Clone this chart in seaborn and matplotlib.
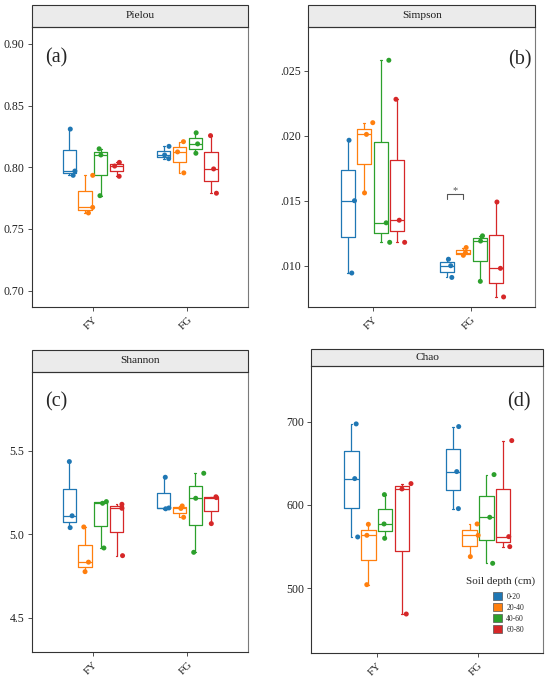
import numpy as np
import pandas as pd
import matplotlib
matplotlib.use("Agg")
import matplotlib.pyplot as plt
from matplotlib.patches import Rectangle, Patch
import seaborn as sns

# ---------------- data ----------------
groups = ["FY", "FG"]
depths = ["0-20", "20-40", "40-60", "60-80"]
colors = ["#1f77b4", "#ff7f0e", "#2ca02c", "#d62728"]

pielou_fy = [[0.7935, 0.797, 0.831], [0.763, 0.7675, 0.7935],
             [0.777, 0.810, 0.815], [0.7927, 0.801, 0.804]]
pielou_fg = [[0.807, 0.810, 0.817], [0.7955, 0.8125, 0.8208],
             [0.8114, 0.819, 0.828], [0.779, 0.7987, 0.8257]]

simpson_fy = [[0.00944, 0.0150, 0.01965], [0.0156, 0.0201, 0.0210],
              [0.0118, 0.0133, 0.0258], [0.0118, 0.0135, 0.0228]]
simpson_fg = [[0.0091, 0.0100, 0.0105], [0.0108, 0.0110, 0.0114],
              [0.0088, 0.0119, 0.0123], [0.0076, 0.0098, 0.0149]]

shannon_fy = [[5.04, 5.111, 5.436], [4.776, 4.833, 5.044],
              [4.918, 5.186, 5.196], [4.872, 5.156, 5.18]]
shannon_fg = [[5.153, 5.158, 5.342], [5.102, 5.155, 5.17],
              [4.892, 5.216, 5.366], [5.064, 5.22, 5.225]]

chao_fy = [[561.6, 631.6, 697.2], [504.4, 563.6, 576.8],
           [560.0, 577.2, 612.4], [469.2, 619.2, 625.6]]
chao_fg = [[595.6, 640.0, 694.0], [538.0, 563.6, 577.2],
           [530.0, 585.2, 636.4], [550.0, 562.0, 677.2]]

panel_titles = ["Pielou", "Simpson", "Shannon", "Chao"]
panel_letters = ["(a)", "(b)", "(c)", "(d)"]
yticks_a = [0.70, 0.75, 0.80, 0.85, 0.90]
yticklabels_a = ["0.70", "0.75", "0.80", "0.85", "0.90"]
yticks_b = [0.010, 0.015, 0.020, 0.025]
yticklabels_b = [".010", ".015", ".020", ".025"]
yticks_c = [4.5, 5.0, 5.5]
yticklabels_c = ["4.5", "5.0", "5.5"]
yticks_d = [500, 600, 700]
yticklabels_d = ["500", "600", "700"]
legend_title = "Soil depth (cm)"

# ---------------- style ----------------
sns.set_style("white")
plt.rcParams["font.family"] = ["Liberation Serif", "DejaVu Serif"]

DODGE = 1.0 / 6.0          # spacing of depth boxes within a group
OFFS = [(i - 1.5) * DODGE for i in range(4)]


def make_df(fy, fg):
    rows = []
    for gi, gdata in enumerate([fy, fg]):
        for di, vals in enumerate(gdata):
            for v in vals:
                rows.append({"group": groups[gi], "depth": depths[di],
                             "xpos": gi + OFFS[di], "value": v})
    return pd.DataFrame(rows)


datasets = [(pielou_fy, pielou_fg), (simpson_fy, simpson_fg),
            (shannon_fy, shannon_fg), (chao_fy, chao_fg)]

W, H = 550, 680
fig = plt.figure(figsize=(5.5, 6.8), dpi=100)

# axes boxes in pixels: left, right, top, bottom, strip height
boxes = [(31.5, 248.3, 26.7, 306.7, 21.7),
         (308.3, 535.0, 26.7, 306.7, 21.7),
         (31.5, 248.3, 371.7, 651.7, 21.7),
         (311.0, 543.3, 365.7, 652.7, 16.7)]
ylims = [(0.687, 0.914), (0.00685, 0.02838), (4.296, 5.975), (422.8, 767.0)]
yt = [(yticks_a, yticklabels_a), (yticks_b, yticklabels_b),
      (yticks_c, yticklabels_c), (yticks_d, yticklabels_d)]
letter_pos = [(0.113, 0.888), (0.934, 0.881), (0.113, 0.892), (0.893, 0.8735)]
xlim = (-0.65, 1.645)

np.random.seed(3)
palette = dict(zip(depths, colors))

for k in range(4):
    l, r, t, b, sh = boxes[k]
    ax = fig.add_axes([l / W, 1 - b / H, (r - l) / W, (b - t) / H])
    df = make_df(*datasets[k])
    df_pts = df.copy()
    df_pts["xpos"] = df_pts["xpos"] + 0.035

    sns.boxplot(data=df, x="xpos", y="value", hue="depth", hue_order=depths,
                palette=palette, native_scale=True, dodge=False, fill=False,
                width=0.85, whis=(0, 100), linewidth=0.9, legend=False,
                capwidths=0.018, ax=ax)
    sns.stripplot(data=df_pts, x="xpos", y="value", hue="depth",
                  hue_order=depths, palette=palette, native_scale=True,
                  dodge=False, jitter=0.35, size=3.6, linewidth=0,
                  legend=False, ax=ax)

    ax.set_xlim(*xlim)
    ax.set_ylim(*ylims[k])
    ax.set_xticks([0, 1])
    ax.set_xticklabels(groups, rotation=45, ha="right", va="top",
                       rotation_mode="anchor")
    ax.set_yticks(yt[k][0])
    ax.set_yticklabels(yt[k][1])
    ax.set_xlabel("")
    ax.set_ylabel("")
    ax.tick_params(axis="both", length=3, width=0.6, color="#333333",
                   labelsize=8.5, pad=2, direction="out",
                   labelcolor="#222222", left=True, bottom=True)
    ax.tick_params(axis="x", pad=3, labelsize=8)
    for s in ["left", "bottom", "top"]:
        ax.spines[s].set_color("#333333")
        ax.spines[s].set_linewidth(0.8)
    ax.spines["right"].set_color("#7a7a7a")
    ax.spines["right"].set_linewidth(0.8)

    # facet strip
    hfrac = sh / (b - t)
    ax.add_patch(Rectangle((0, 1), 1, hfrac, transform=ax.transAxes,
                           facecolor="#EBEBEB", edgecolor="#333333",
                           linewidth=0.8, clip_on=False))
    ax.text(0.5, 1 + hfrac / 2, panel_titles[k], transform=ax.transAxes,
            ha="center", va="center", fontsize=8.2, color="#1a1a1a")
    ax.text(letter_pos[k][0], letter_pos[k][1], panel_letters[k],
            transform=ax.transAxes, ha="center", va="center", fontsize=14.5)

    if k == 1:
        x0, x1 = 1 + OFFS[0], 1 + OFFS[1]
        ax.plot([x0, x0, x1, x1], [0.01513, 0.01554, 0.01554, 0.01513],
                color="#555555", lw=0.8)
        ax.text((x0 + x1) / 2, 0.01580, "*", ha="center", va="center",
                fontsize=7.5, color="#555555")

    if k == 3:
        ax.text(0.814, 0.25, legend_title, transform=ax.transAxes,
                ha="center", va="center", fontsize=8)
        handles = [Patch(facecolor=c, edgecolor="#555555", linewidth=0.5,
                         label=d) for c, d in zip(colors, depths)]
        ax.legend(handles=handles, loc="upper left",
                  bbox_to_anchor=(0.785, 0.21), frameon=False,
                  fontsize=5.5, handlelength=1.1, handleheight=1.1,
                  handletextpad=0.6, labelspacing=0.35, borderpad=0,
                  borderaxespad=0)

fig.savefig("out.png", dpi=100)
